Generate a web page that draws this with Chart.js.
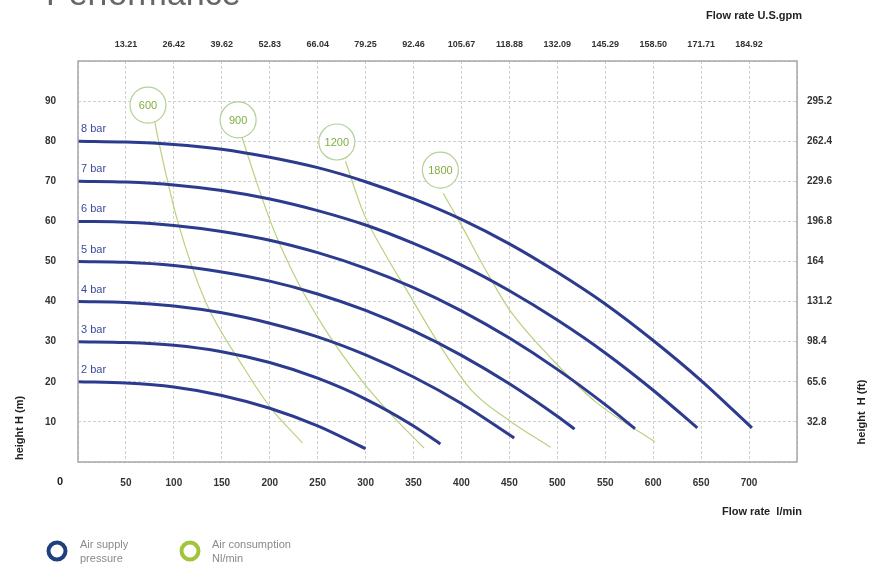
<!DOCTYPE html>
<html>
<head>
<meta charset="utf-8">
<script src="https://cdn.jsdelivr.net/npm/chart.js@4.4.1/dist/chart.umd.min.js"></script>
<style>
  body { margin: 0; background: #fff; }
  #perfChart { display: block; }
</style>
</head>
<body>
<canvas id="perfChart" width="882" height="571"></canvas>
<script>
// tick labels
var gpmLabels = ['13.21', '26.42', '39.62', '52.83', '66.04', '79.25', '92.46', '105.67', '118.88', '132.09', '145.29', '158.50', '171.71', '184.92'];
var ftLabels = ['32.8', '65.6', '98.4', '131.2', '164', '196.8', '229.6', '262.4', '295.2'];

// air supply pressure curves [flow l/min, head m]
var pressureNames = ['8 bar', '7 bar', '6 bar', '5 bar', '4 bar', '3 bar', '2 bar'];
var curve8bar = [[0, 80], [50, 79.8], [100, 79.2], [150, 78], [200, 76], [250, 73.4], [300, 69.9], [350, 65.6], [400, 60.5], [450, 54.4], [500, 47.3], [550, 39.4], [600, 30.3], [650, 20.3], [703, 8.5]];
var curve7bar = [[0, 70], [50, 69.8], [100, 69.1], [150, 67.7], [200, 65.6], [250, 62.7], [300, 59.1], [350, 54.5], [400, 49.1], [450, 42.7], [500, 35.4], [550, 27.2], [600, 17.9], [646, 8.5]];
var curve6bar = [[0, 60], [50, 59.8], [100, 59], [150, 57.5], [200, 55.3], [250, 52.2], [300, 48.3], [350, 43.5], [400, 37.7], [450, 30.9], [500, 23.1], [550, 14.3], [581, 8.3]];
var curve5bar = [[0, 50], [50, 49.8], [100, 49], [150, 47.4], [200, 45.1], [250, 41.9], [300, 37.8], [350, 32.7], [400, 26.6], [450, 19.5], [500, 11.4], [518, 8.2]];
var curve4bar = [[0, 40], [50, 39.8], [100, 38.9], [150, 37.2], [200, 34.6], [250, 31.2], [300, 26.7], [350, 21.2], [400, 14.6], [455, 6]];
var curve3bar = [[0, 30], [50, 29.8], [100, 29.1], [150, 27.5], [200, 24.8], [250, 20.9], [300, 15.7], [350, 9], [378, 4.5]];
var curve2bar = [[0, 20], [50, 19.7], [100, 18.7], [150, 16.6], [200, 13.4], [250, 9], [300, 3.3]];

// air consumption lines (Nl/min)
var airNames = ['600', '900', '1200', '1800'];
var air600 = [[80, 85], [85, 79], [104, 60], [133, 40], [173, 23.5], [201, 13.5], [234, 4.8]];
var air900 = [[171, 81], [186, 70], [204, 58], [229, 45], [258, 33], [297, 20], [330, 11], [361, 3.5]];
var air1200 = [[279, 75], [298, 62], [320, 52], [345, 42], [375, 30], [410, 18], [452, 10], [493, 3.7]];
var air1800 = [[381, 67], [400, 59], [425, 48], [450, 38], [497, 25], [540, 15], [602, 5]];
var airBadges = [[73, 89], [167, 85.3], [270, 79.8], [378, 72.8]];

var BLUE = '#2d3b8e';
var GREEN = '#b9d27e';
var FONT = '"Liberation Sans", Arial, sans-serif';

function pts(arr) {
    return arr.map(function (p) { return { x: p[0], y: p[1] }; });
}

var pressureCurves = [curve8bar, curve7bar, curve6bar, curve5bar, curve4bar, curve3bar, curve2bar];
var airCurves = [air600, air900, air1200, air1800];

var datasets = [{
    label: 'badges',
    type: 'scatter',
    data: pts(airBadges),
    pointRadius: 18,
    pointHoverRadius: 18,
    backgroundColor: 'rgba(255,255,255,0.95)',
    borderColor: '#b3d09a',
    borderWidth: 1.2
}];
pressureCurves.forEach(function (c, i) {
    datasets.push({
        label: pressureNames[i],
        data: pts(c),
        borderColor: BLUE,
        borderWidth: 3,
        pointRadius: 0,
        cubicInterpolationMode: 'monotone',
        fill: false
    });
});
airCurves.forEach(function (c, i) {
    datasets.push({
        label: airNames[i],
        data: pts(c),
        borderColor: GREEN,
        borderWidth: 1.2,
        pointRadius: 0,
        cubicInterpolationMode: 'monotone',
        fill: false
    });
});

var tickFont = { family: FONT, size: 10, weight: 'bold' };

var decorPlugin = {
    id: 'decor',
    afterDatasetsDraw: function (chart) {
        var ctx = chart.ctx;
        var xs = chart.scales.x, ys = chart.scales.y;
        ctx.save();
        // badge numbers
        ctx.font = '11px ' + FONT;
        ctx.fillStyle = '#7fae3f';
        ctx.textAlign = 'center';
        ctx.textBaseline = 'middle';
        airBadges.forEach(function (b, i) {
            ctx.fillText(airNames[i], xs.getPixelForValue(b[0]), ys.getPixelForValue(b[1]) + 1);
        });
        // pressure labels
        ctx.fillStyle = '#3b4a9c';
        ctx.textAlign = 'left';
        pressureCurves.forEach(function (c, i) {
            ctx.fillText(pressureNames[i], xs.left + 3, ys.getPixelForValue(c[0][1]) - 12);
        });
        ctx.restore();
    },
    afterDraw: function (chart) {
        var ctx = chart.ctx;
        var a = chart.chartArea;
        ctx.save();
        // frame
        ctx.strokeStyle = '#a8a8a8';
        ctx.lineWidth = 1.5;
        ctx.strokeRect(a.left, a.top, a.right - a.left, a.bottom - a.top);

        // cut-off heading
        ctx.fillStyle = '#666';
        ctx.font = '34px ' + FONT;
        ctx.textAlign = 'left';
        ctx.textBaseline = 'alphabetic';
        ctx.fillText('Performance', 46, 5);

        // axis titles
        ctx.fillStyle = '#222';
        ctx.font = 'bold 11px ' + FONT;
        ctx.textAlign = 'right';
        ctx.textBaseline = 'middle';
        ctx.fillText('Flow rate U.S.gpm', 802, 16);
        ctx.fillText('Flow rate  l/min', 802, 512);

        ctx.textAlign = 'center';
        ctx.fillText('0', 60, 482);

        ctx.save();
        ctx.translate(20, 428);
        ctx.rotate(-Math.PI / 2);
        ctx.fillText('height H (m)', 0, 0);
        ctx.restore();

        ctx.save();
        ctx.translate(862, 412);
        ctx.rotate(-Math.PI / 2);
        ctx.fillText('height  H (ft)', 0, 0);
        ctx.restore();

        // legend
        ctx.lineWidth = 4;
        ctx.strokeStyle = '#1f3f7e';
        ctx.beginPath();
        ctx.arc(57, 551, 8.5, 0, Math.PI * 2);
        ctx.stroke();
        ctx.strokeStyle = '#a0c53c';
        ctx.beginPath();
        ctx.arc(190, 551, 8.5, 0, Math.PI * 2);
        ctx.stroke();

        ctx.fillStyle = '#8a8a8a';
        ctx.font = '11px ' + FONT;
        ctx.textAlign = 'left';
        ctx.textBaseline = 'middle';
        ctx.fillText('Air supply', 80, 545);
        ctx.fillText('pressure', 80, 559);
        ctx.fillText('Air consumption', 212, 545);
        ctx.fillText('Nl/min', 212, 559);
        ctx.restore();
    }
};

new Chart(document.getElementById('perfChart').getContext('2d'), {
    type: 'line',
    data: { datasets: datasets },
    options: {
        responsive: false,
        animation: false,
        layout: { padding: 0 },
        plugins: {
            legend: { display: false },
            tooltip: { enabled: false }
        },
        scales: {
            x: {
                type: 'linear',
                position: 'bottom',
                min: 0,
                max: 750,
                afterFit: function (s) { s.height = 109; },
                ticks: {
                    stepSize: 50,
                    autoSkip: false,
                    maxRotation: 0,
                    padding: 15,
                    color: '#333',
                    font: tickFont,
                    callback: function (v) { return (v === 0 || v === 750) ? '' : v; }
                },
                grid: { color: '#cfcfcf', lineWidth: 1, drawTicks: false },
                border: { display: false, dash: [3, 2] }
            },
            x2: {
                type: 'linear',
                position: 'top',
                min: 0,
                max: 750,
                afterFit: function (s) { s.height = 61; },
                ticks: {
                    stepSize: 50,
                    autoSkip: false,
                    maxRotation: 0,
                    padding: 11,
                    color: '#333',
                    font: { family: FONT, size: 9, weight: 'bold' },
                    callback: function (v) { return gpmLabels[v / 50 - 1] || ''; }
                },
                grid: { display: false, drawTicks: false },
                border: { display: false }
            },
            y: {
                type: 'linear',
                position: 'left',
                min: 0,
                max: 100,
                afterFit: function (s) { s.width = 78; },
                ticks: {
                    stepSize: 10,
                    padding: 22,
                    color: '#333',
                    font: tickFont,
                    callback: function (v) { return (v === 0 || v === 100) ? '' : v; }
                },
                grid: { color: '#cfcfcf', lineWidth: 1, drawTicks: false },
                border: { display: false, dash: [3, 2] }
            },
            y2: {
                type: 'linear',
                position: 'right',
                min: 0,
                max: 100,
                afterFit: function (s) { s.width = 85; },
                ticks: {
                    stepSize: 10,
                    padding: 10,
                    color: '#333',
                    font: tickFont,
                    callback: function (v) { return ftLabels[v / 10 - 1] || ''; }
                },
                grid: { display: false, drawTicks: false },
                border: { display: false }
            }
        }
    },
    plugins: [decorPlugin]
});
</script>
</body>
</html>
